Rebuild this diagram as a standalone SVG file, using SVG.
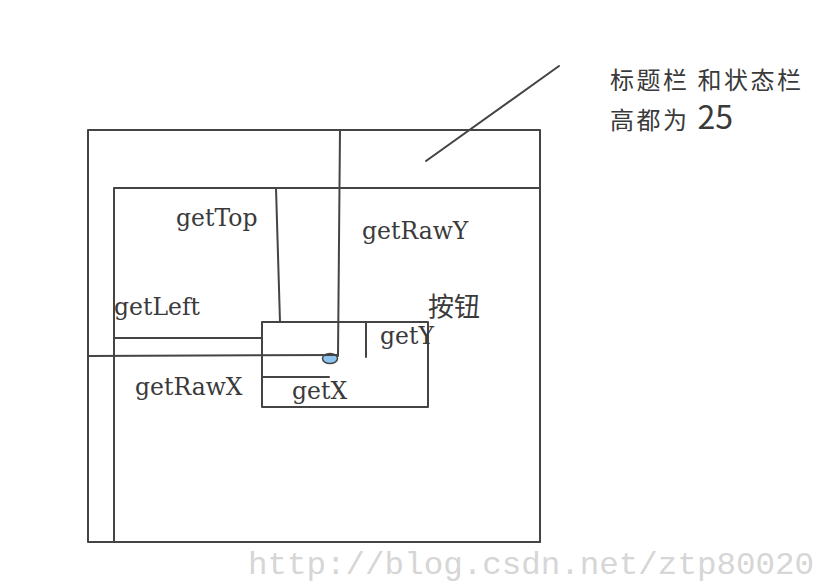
<svg xmlns="http://www.w3.org/2000/svg" width="826" height="584" viewBox="0 0 826 584">
<style>
.ln{fill:none;stroke:#444;stroke-width:2;stroke-linecap:round;stroke-linejoin:round}
.lab{font-family:"DejaVu Serif","Liberation Serif",serif;font-size:23.5px;fill:#3a3a3a}
.cjk{font-family:"Noto Sans CJK SC","Noto Sans",sans-serif;fill:#3a3a3a}
</style>
<rect width="826" height="584" fill="#fff"/>
<g id="screen"><rect class="ln" x="88" y="130" width="452" height="412"/></g>
<g id="content"><rect class="ln" x="114" y="188" width="426" height="354"/></g>
<g id="button"><rect class="ln" x="262" y="322" width="166" height="85"/>
<text class="cjk" x="428" y="316" font-size="26">按钮</text></g>
<g id="touch"><ellipse cx="330" cy="358.500" rx="7.500" ry="5" fill="#8ec5f0" stroke="#444" stroke-width="1.500"/></g>
<g id="connectors">
<line class="ln" x1="276" y1="188" x2="280" y2="322"/>
<line class="ln" x1="340" y1="130" x2="338" y2="356"/>
<line class="ln" x1="114" y1="338" x2="262" y2="338"/>
<line class="ln" x1="88" y1="356" x2="338" y2="355"/>
<line class="ln" x1="366" y1="323" x2="366" y2="357"/>
<line class="ln" x1="262" y1="377" x2="329" y2="377"/>
<line class="ln" x1="426" y1="161" x2="559" y2="66"/>
</g>
<g id="labels">
<text class="lab" x="176" y="226">getTop</text>
<text class="lab" x="362" y="239">getRawY</text>
<text class="lab" x="114" y="315">getLeft</text>
<text class="lab" x="380" y="344">getY</text>
<text class="lab" x="135" y="395">getRawX</text>
<text class="lab" x="292" y="399">getX</text>
</g>
<g id="note">
<text class="cjk" x="610" y="89" font-size="24" letter-spacing="2.500">标题栏 和状态栏</text>
<text class="cjk" x="610" y="129" font-size="24" letter-spacing="2.500">高都为 <tspan font-size="32" letter-spacing="0">25</tspan></text>
</g>
<text x="248" y="574" font-family="Liberation Mono,monospace" font-size="32" fill="#d6d6d6" textLength="566" lengthAdjust="spacingAndGlyphs">http://blog.csdn.net/ztp80020</text>
</svg>
